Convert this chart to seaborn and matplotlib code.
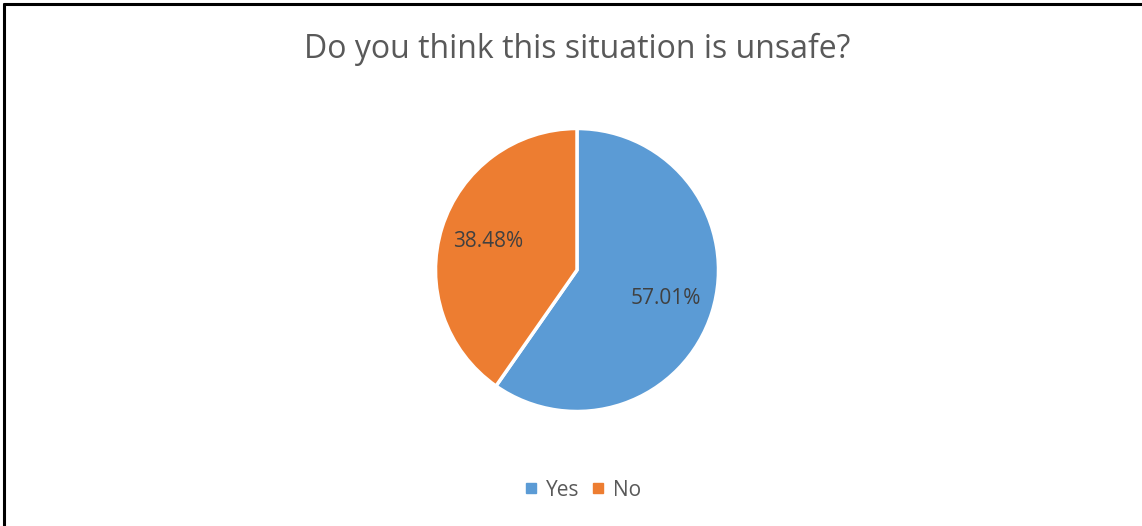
import matplotlib
matplotlib.use("Agg")
import matplotlib.pyplot as plt
from matplotlib.lines import Line2D
import seaborn as sns

categories = ["Yes", "No"]
values = [57.01, 38.48]
title = "Do you think this situation is unsafe?"
colors = ["#5B9BD5", "#ED7D31"]

sns.set_theme(style="white")
plt.rcParams["font.family"] = ["Open Sans", "DejaVu Sans"]

W, H = 1142, 526
fig = plt.figure(figsize=(W / 100, H / 100), dpi=100)
fig.patch.set_facecolor("white")

cx, cy, R = 577, 270, 141.5
half = R * 1.25
ax = fig.add_axes([(cx - half) / W, (H - cy - half) / H, 2 * half / W, 2 * half / H])

total = sum(values)
wedges, texts, autotexts = ax.pie(
    values,
    colors=colors,
    startangle=90,
    counterclock=False,
    autopct=lambda p: f"{p * total / 100:.2f}%",
    pctdistance=0.66,
    wedgeprops=dict(edgecolor="white", linewidth=2.5),
    textprops=dict(color="#404040", fontsize=15),
)
ax.set_xlim(-1.25, 1.25)
ax.set_ylim(-1.25, 1.25)

fig.text(cx / W, 1 - 49 / H, title, ha="center", va="center",
         fontsize=23, color="#595959")

handles = [Line2D([0], [0], marker="s", linestyle="none", markersize=7,
                  markerfacecolor=c, markeredgecolor=c) for c in colors]
fig.legend(handles, categories, loc="center", bbox_to_anchor=(581 / W, 1 - 490 / H),
           ncol=2, frameon=False, fontsize=15, handletextpad=0.2,
           columnspacing=0.4, labelcolor="#595959", handlelength=1.0)

# partial frame (left and top edges)
fig.add_artist(Line2D([4 / W, 4 / W], [0, 1 - 4 / H], color="black", linewidth=2.2,
                      transform=fig.transFigure))
fig.add_artist(Line2D([4 / W, 1], [1 - 4 / H, 1 - 4 / H], color="black", linewidth=2.2,
                      transform=fig.transFigure))

fig.savefig("out.png", dpi=100, facecolor="white")
